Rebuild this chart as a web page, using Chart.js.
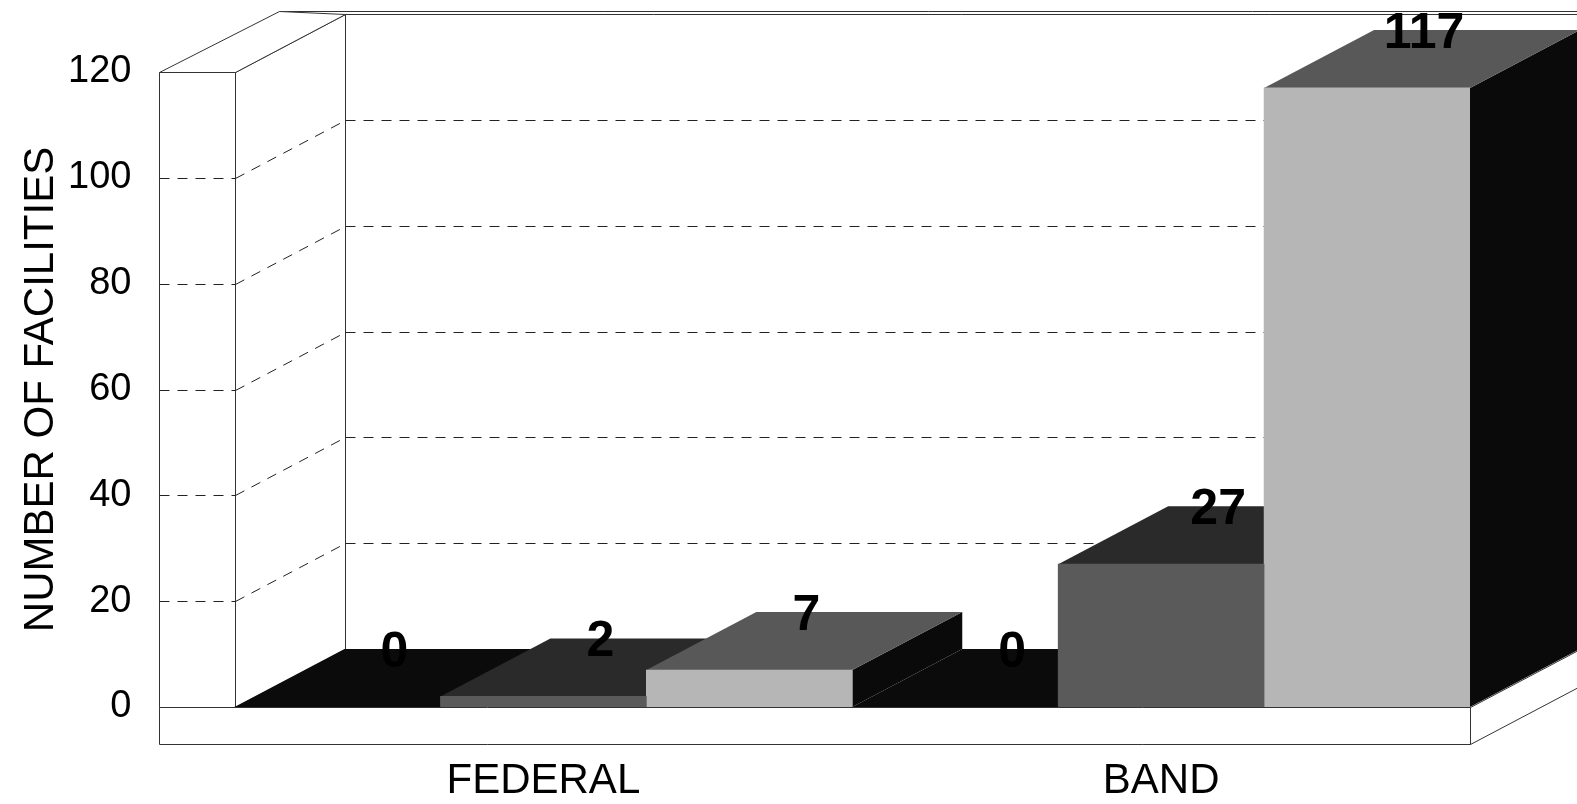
<!DOCTYPE html>
<html>
<head>
<meta charset="utf-8">
<title>Number of facilities</title>
<script src="https://cdn.jsdelivr.net/npm/chart.js@4.4.0/dist/chart.umd.min.js"></script>
<style>
  html, body { margin: 0; padding: 0; background: #fff; }
  #wrap { width: 1577px; height: 804px; }
</style>
</head>
<body>
<div id="wrap"><canvas id="myChart" width="1577" height="804"></canvas></div>
<script>
const categories = ['FEDERAL', 'BAND'];
const series1 = [0, 0];
const series2 = [2, 27];
const series3 = [7, 117];
const yTicks = [0, 20, 40, 60, 80, 100, 120];

// colours of the three bar faces, one entry per series
const frontColors = ['#0b0b0b', '#5a5a5a', '#b6b6b6'];
const topColors = ['#0b0b0b', '#2a2a2a', '#585858'];
const sideColors = ['#000000', '#181818', '#0a0a0a'];

const FONT = "'Liberation Sans', Arial, Helvetica, sans-serif";
const depthX = 110; // how far the back wall is shifted right
const depthY = 58;  // and up
const wallThick = 76;
const floorThick = 37;

function poly(ctx, pts, fill, stroke) {
    ctx.beginPath();
    ctx.moveTo(pts[0][0], pts[0][1]);
    for (let i = 1; i < pts.length; i++) ctx.lineTo(pts[i][0], pts[i][1]);
    ctx.closePath();
    if (fill) { ctx.fillStyle = fill; ctx.fill(); }
    if (stroke) { ctx.strokeStyle = stroke; ctx.stroke(); }
}

function line(ctx, x1, y1, x2, y2) {
    ctx.beginPath();
    ctx.moveTo(x1, y1);
    ctx.lineTo(x2, y2);
    ctx.stroke();
}

const px = v => Math.round(v) + 0.5;

const box3d = {
    id: 'box3d',
    beforeDatasetsDraw(chart) {
        const ctx = chart.ctx;
        const a = chart.chartArea;
        const y = chart.scales.y;
        const W = chart.width;
        const left = px(a.left), right = px(a.right);
        const bottom = px(y.getPixelForValue(0)), top = px(y.getPixelForValue(120));
        const outer = left - wallThick;
        const floorBottom = bottom + floorThick;
        const edge = '#333';

        ctx.save();
        ctx.lineWidth = 1;
        ctx.strokeStyle = edge;

        // back wall
        line(ctx, left + depthX, top - depthY, left + depthX, bottom - depthY);
        line(ctx, left + depthX, top - depthY, W, top - depthY);
        line(ctx, outer + depthX + 10, top - depthY - 3, W, top - depthY - 3);

        // left wall: inner face, top, front
        poly(ctx, [[left, top], [left + depthX, top - depthY], [left + depthX, bottom - depthY], [left, bottom]], '#fff', edge);
        poly(ctx, [[outer, top], [left, top], [left + depthX, top - depthY], [outer + depthX + 10, top - depthY - 3]], '#fff', edge);
        poly(ctx, [[outer, top], [left, top], [left, bottom], [outer, bottom]], '#fff', edge);

        // floor front and right faces
        poly(ctx, [[outer, bottom], [right, bottom], [right, floorBottom], [outer, floorBottom]], '#fff', edge);
        poly(ctx, [[right, bottom], [right + depthX, bottom - depthY], [right + depthX, floorBottom - depthY], [right, floorBottom]], '#fff', edge);

        // dashed grid lines on left wall and back wall
        ctx.setLineDash([10, 8]);
        ctx.strokeStyle = '#222';
        y.ticks.forEach(t => {
            if (t.value <= 0 || t.value >= 120) return;
            const py = px(y.getPixelForValue(t.value));
            line(ctx, outer, py, left, py);
            line(ctx, left, py, left + depthX, py - depthY);
            line(ctx, left + depthX, py - depthY, W, py - depthY);
        });
        ctx.setLineDash([]);

        // tops and right sides of the bars, left to right
        const bars = [];
        chart.data.datasets.forEach((ds, i) => {
            chart.getDatasetMeta(i).data.forEach(el => bars.push({ el, i }));
        });
        bars.sort((p, q) => p.el.x - q.el.x);
        bars.forEach(({ el, i }) => {
            const { x, y: ty, base, width } = el.getProps(['x', 'y', 'base', 'width'], true);
            const l = x - width / 2, r = x + width / 2;
            poly(ctx, [[r, ty], [r + depthX, ty - depthY], [r + depthX, base - depthY], [r, base]], sideColors[i]);
            poly(ctx, [[l, ty], [r, ty], [r + depthX, ty - depthY], [l + depthX, ty - depthY]], topColors[i]);
        });
        ctx.restore();
    },
    afterDatasetsDraw(chart) {
        const ctx = chart.ctx;
        ctx.save();
        ctx.font = 'bold 50px ' + FONT;
        ctx.fillStyle = '#000';
        ctx.textAlign = 'center';
        ctx.textBaseline = 'alphabetic';
        chart.data.datasets.forEach((ds, i) => {
            chart.getDatasetMeta(i).data.forEach((el, j) => {
                ctx.fillText(String(ds.data[j]), el.x + 57, el.y - 40);
            });
        });
        ctx.restore();
    }
};

const ctx = document.getElementById('myChart').getContext('2d');
new Chart(ctx, {
    type: 'bar',
    data: {
        labels: categories,
        datasets: [
            { label: 'Series 1', data: series1, backgroundColor: frontColors[0] },
            { label: 'Series 2', data: series2, backgroundColor: frontColors[1] },
            { label: 'Series 3', data: series3, backgroundColor: frontColors[2] }
        ]
    },
    options: {
        responsive: false,
        animation: false,
        datasets: { bar: { categoryPercentage: 1, barPercentage: 1, borderWidth: 0 } },
        layout: { padding: { top: 72, right: 107, left: 0, bottom: 0 } },
        plugins: {
            legend: { display: false },
            tooltip: { enabled: false }
        },
        scales: {
            x: {
                grid: { display: false, drawTicks: false },
                border: { display: false },
                ticks: { color: '#000', font: { family: FONT, size: 42 }, padding: 49 },
                afterFit(axis) { axis.height = 97; }
            },
            y: {
                min: 0,
                max: 120,
                grid: { display: false, drawTicks: false },
                border: { display: false },
                afterBuildTicks(axis) { axis.ticks = yTicks.map(v => ({ value: v })); },
                ticks: { color: '#000', font: { family: FONT, size: 38 }, padding: 103 },
                title: {
                    display: true,
                    text: 'NUMBER OF FACILITIES',
                    color: '#000',
                    font: { family: FONT, size: 42 },
                    padding: { top: 16, bottom: 0 }
                },
                afterFit(axis) {
                    axis.width = 234.5;
                    // the big label padding would otherwise push the plot area in
                    axis.paddingTop = 0;
                    axis.paddingBottom = 0;
                }
            }
        }
    },
    plugins: [box3d]
});
</script>
</body>
</html>
